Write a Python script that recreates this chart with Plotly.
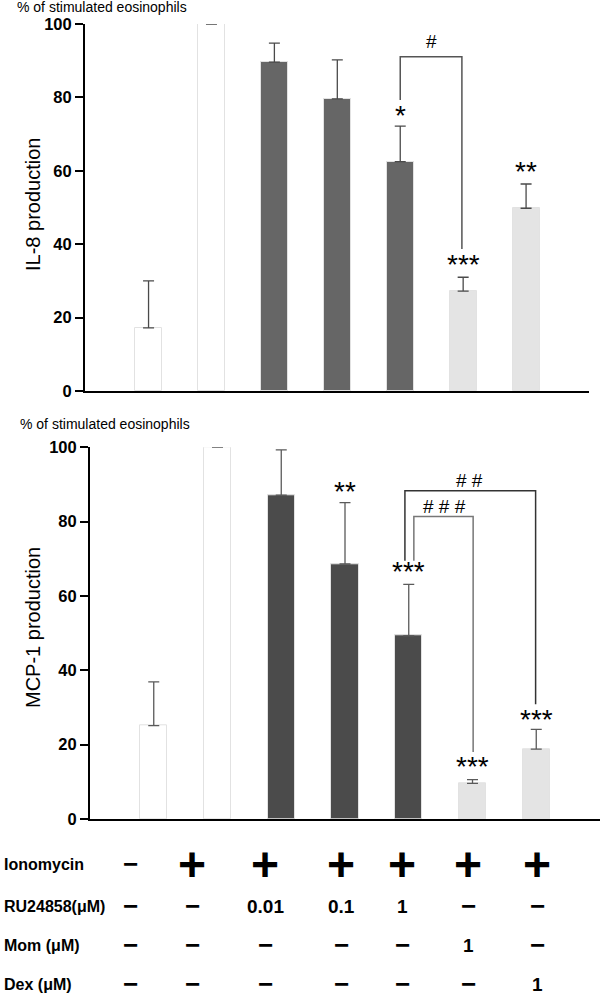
import plotly.graph_objects as go

FONT = "Liberation Sans, Arial, sans-serif"

# ---------------- data ----------------
groups = [0, 1, 2, 3, 4, 5, 6]

il8_mean = [17.2, 100, 89.6, 79.6, 62.5, 27.2, 49.8]
il8_err = [12.8, None, 5.2, 10.6, 9.7, 3.8, 6.6]
il8_colors = ["#ffffff", "#ffffff", "#666666", "#666666", "#666666", "#e4e4e4", "#e4e4e4"]

mcp1_mean = [25.1, 100, 87.1, 68.6, 49.3, 9.6, 18.8]
mcp1_err = [11.8, None, 12.2, 16.5, 13.8, 1.0, 5.3]
mcp1_colors = ["#ffffff", "#ffffff", "#4b4b4b", "#4b4b4b", "#4b4b4b", "#e4e4e4", "#e4e4e4"]

# significance marks: (x, y, text)
il8_stars = [(4, 75.2, "*"), (5, 34.6, "***"), (6, 59.7, "**")]
il8_hash = [(4.5, 95.2, "#")]
# brackets: x_left, x_right, y_top, y_left_bottom, y_right_bottom, colour
il8_brackets = [(4.0, 4.98, 91.1, 79.3, 38.7, "#555555")]

mcp1_stars = [(3, 88.0, "**"), (4, 66.5, "***"), (5, 14.1, "***"), (6, 26.8, "***")]
mcp1_hash = [(4.96, 91.2, "# #"), (4.56, 84.0, "# # #")]
mcp1_brackets = [(3.94, 5.99, 88.3, 69.5, 30.9, "#333333"),
                 (4.08, 5.01, 81.4, 69.5, 18.0, "#777777")]

yticks = [0, 20, 40, 60, 80, 100]

row_labels = ["Ionomycin", "RU24858(\u03bcM)", "Mom (\u03bcM)", "Dex (\u03bcM)"]
table = [
    ["\u2212", "+", "+", "+", "+", "+", "+"],
    ["\u2212", "\u2212", "0.01", "0.1", "1", "\u2212", "\u2212"],
    ["\u2212", "\u2212", "\u2212", "\u2212", "\u2212", "1", "\u2212"],
    ["\u2212", "\u2212", "\u2212", "\u2212", "\u2212", "\u2212", "1"],
]
col_px = [130, 192, 265, 341, 402, 468, 537]
row_px = [864, 906, 945, 984]

# body margin is removed (see post_script), so the figure fills the window
W, H = 600, 999


def px(xs):
    return xs / W


def py(ys):
    return 1 - ys / H


fig = go.Figure()

fig.add_trace(go.Bar(
    x=groups, y=il8_mean, width=0.43,
    marker=dict(color=il8_colors, line=dict(color="#e2e2e2", width=1)),
    error_y=dict(type="data", array=il8_err, arrayminus=[0] * 7, symmetric=False,
                 color="#4a4a4a", thickness=1.3, width=5.5),
    xaxis="x", yaxis="y", showlegend=False,
))
fig.add_trace(go.Bar(
    x=groups, y=mcp1_mean, width=0.43,
    marker=dict(color=mcp1_colors, line=dict(color="#e2e2e2", width=1)),
    error_y=dict(type="data", array=mcp1_err, arrayminus=[0] * 7, symmetric=False,
                 color="#5a5a5a", thickness=1.3, width=5.5),
    xaxis="x2", yaxis="y2", showlegend=False,
))

axis_common = dict(showgrid=False, zeroline=False, showline=True, linecolor="black",
                   linewidth=2, automargin=False)

fig.update_layout(
    width=W, height=H,
    margin=dict(l=0, r=0, t=0, b=0, pad=0, autoexpand=False),
    paper_bgcolor="white", plot_bgcolor="white",
    font=dict(family=FONT, color="black"),
    bargap=0,
    xaxis=dict(domain=[px(85), px(589)], range=[-1.01, 7.0], showticklabels=False,
               ticks="", anchor="y", **axis_common),
    yaxis=dict(domain=[py(391), py(24)], range=[0, 100], tickvals=yticks,
               ticks="outside", ticklen=8, tickwidth=2, tickcolor="black",
               tickfont=dict(size=16.5, weight="bold", family=FONT), anchor="x",
               **axis_common),
    xaxis2=dict(domain=[px(90), 1.0], range=[-1.0, 7.0], showticklabels=False,
                ticks="", anchor="y2", **axis_common),
    yaxis2=dict(domain=[py(819), py(447.3)], range=[0, 100], tickvals=yticks,
                ticks="outside", ticklen=8, tickwidth=2, tickcolor="black",
                tickfont=dict(size=16.5, weight="bold", family=FONT), anchor="x2",
                **axis_common),
)

ann = []
shapes = []


def add_marks(stars, hashes, brackets, xr, yr):
    for x, y, t in stars:
        ann.append(dict(x=x, y=y, xref=xr, yref=yr, text=t, showarrow=False,
                        font=dict(size=28, family=FONT, color="black"), yanchor="middle"))
    for x, y, t in hashes:
        ann.append(dict(x=x, y=y, xref=xr, yref=yr, text=t, showarrow=False,
                        font=dict(size=19, family=FONT, color="black"), yanchor="middle"))
    for xl, xrr, yt, ylb, yrb, c in brackets:
        shapes.append(dict(type="path", xref=xr, yref=yr,
                           path=f"M {xl},{ylb} L {xl},{yt} L {xrr},{yt} L {xrr},{yrb}",
                           line=dict(color=c, width=1.5)))


add_marks(il8_stars, il8_hash, il8_brackets, "x", "y")
add_marks(mcp1_stars, mcp1_hash, mcp1_brackets, "x2", "y2")

# axis titles
ann.append(dict(x=px(15), y=py(7), xref="paper", yref="paper", xanchor="left", yanchor="middle",
                text="% of stimulated eosinophils", showarrow=False, font=dict(size=14, family=FONT)))
ann.append(dict(x=px(18), y=py(424), xref="paper", yref="paper", xanchor="left", yanchor="middle",
                text="% of stimulated eosinophils", showarrow=False, font=dict(size=14, family=FONT)))
ann.append(dict(x=px(33), y=py(205), xref="paper", yref="paper", textangle=-90,
                xanchor="center", yanchor="middle",
                text="IL-8 production", showarrow=False, font=dict(size=20, family=FONT)))
ann.append(dict(x=px(33), y=py(628), xref="paper", yref="paper", textangle=-90,
                xanchor="center", yanchor="middle",
                text="MCP-1 production", showarrow=False, font=dict(size=20, family=FONT)))

# treatment table
for r, lab in enumerate(row_labels):
    ann.append(dict(x=px(2), y=py(row_px[r]), xref="paper", yref="paper",
                    xanchor="left", yanchor="middle", text=lab, showarrow=False,
                    font=dict(size=16, weight="bold", family=FONT)))
    for c, val in enumerate(table[r]):
        if val == "+":
            f = dict(size=48, weight="bold", family=FONT)
        elif val == "\u2212":
            f = dict(size=26, weight="bold", family=FONT)
        else:
            f = dict(size=19, weight="bold", family=FONT)
        ann.append(dict(x=px(col_px[c]), y=py(row_px[r]), xref="paper", yref="paper",
                        xanchor="center", yanchor="middle", text=val, showarrow=False, font=f))

fig.update_layout(annotations=ann, shapes=shapes)

fig.write_html("out.html", config={"displayModeBar": False},
               post_script="document.body.style.margin='0';document.body.style.overflow='hidden';")
